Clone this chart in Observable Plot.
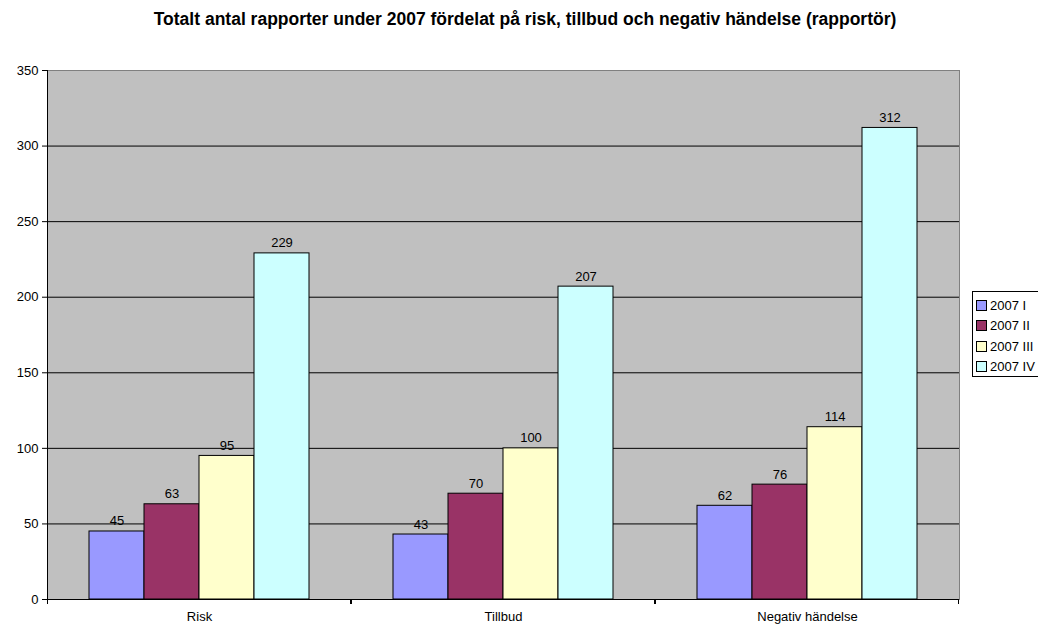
<!DOCTYPE html>
<html>
<head>
<meta charset="utf-8">
<script src="https://cdn.jsdelivr.net/npm/d3@7"></script>
<script src="https://cdn.jsdelivr.net/npm/@observablehq/plot@0.6"></script>
<style>
  html, body { margin: 0; padding: 0; background: #fff; overflow: hidden; }
  #wrap { position: relative; width: 1038px; height: 625px; font-family: "Liberation Sans", Arial, sans-serif; }
  #title { position: absolute; left: 0; top: 9px; width: 1050px; text-align: center; font-weight: bold; font-size: 17.5px; line-height: 20px; color: #000; }
  #chart { position: absolute; left: 0; top: 60px; }
  #legend { position: absolute; left: 972px; top: 291px; width: 90px; height: 86px; border: 1px solid #000; background: #fff; box-sizing: border-box; padding-top: 3px; }
  .row { height: 20.5px; display: flex; align-items: center; font-size: 13px; white-space: nowrap; }
  .sw { width: 9px; height: 9px; border: 1px solid #000; margin-left: 3px; margin-right: 3px; }
</style>
</head>
<body>
<div id="wrap">
  <div id="title">Totalt antal rapporter under 2007 fördelat på risk, tillbud och negativ händelse (rapportör)</div>
  <div id="chart"></div>
  <div id="legend"></div>
</div>
<script>
const categories = ["Risk", "Tillbud", "Negativ händelse"];
const series = ["2007 I", "2007 II", "2007 III", "2007 IV"];
const colors = ["#9999FF", "#993366", "#FFFFCC", "#CCFFFF"];
const values2007I = [45, 43, 62];
const values2007II = [63, 70, 76];
const values2007III = [95, 100, 114];
const values2007IV = [229, 207, 312];
const yTicks = [0, 50, 100, 150, 200, 250, 300, 350];

const valueLists = [values2007I, values2007II, values2007III, values2007IV];
const data = [];
categories.forEach((c, ci) => {
  series.forEach((s, si) => data.push({category: c, series: s, value: valueLists[si][ci]}));
});

const chart = Plot.plot({
  width: 1038,
  height: 565,
  marginTop: 10,
  marginBottom: 26,
  marginLeft: 46,
  marginRight: 78,
  style: {fontFamily: "'Liberation Sans', Arial, sans-serif", fontSize: "13px", color: "#000", background: "transparent"},
  fx: {domain: categories, padding: 0, label: null, axis: null},
  x: {domain: series, paddingInner: 0, paddingOuter: 0.76, axis: null},
  y: {domain: [0, 350], ticks: yTicks, label: null},
  color: {domain: series, range: colors},
  marks: [
    Plot.frame({facet: "super", fill: "#c0c0c0", stroke: "none"}),
    Plot.ruleY(yTicks.filter(d => d > 0 && d < 350), {stroke: "#000", strokeWidth: 1}),
    Plot.ruleY([350], {stroke: "#808080", strokeWidth: 1}),
    Plot.barY(data, {fx: "category", x: "series", y: "value", fill: "series", stroke: "#000", strokeWidth: 1}),
    Plot.text(data, {fx: "category", x: "series", y: "value", text: d => String(d.value), lineAnchor: "bottom", dy: -6, fill: "#000", fontSize: 13}),
    Plot.ruleY([0], {stroke: "#000", strokeWidth: 1}),
    Plot.rect([0], {y1: 0, y2: 0, insetBottom: -5, fill: "#000"}),
    Plot.rect([0], {y1: 0, y2: 0, insetBottom: -6, insetTop: 1, insetLeft: 1, insetRight: 1, fill: "#fff"}),
    Plot.frame({anchor: "left", facet: "super", stroke: "#000"}),
    Plot.frame({anchor: "right", facet: "super", stroke: "#808080"}),
    Plot.axisY({ticks: yTicks, tickSize: 5, tickPadding: 4, label: null, fontSize: 13}),
    Plot.axisFx({anchor: "bottom", tickSize: 0, tickPadding: 12, label: null, fontSize: 13})
  ]
});
document.getElementById("chart").appendChild(chart);

const legend = document.getElementById("legend");
series.forEach((s, i) => {
  const row = document.createElement("div");
  row.className = "row";
  const sw = document.createElement("div");
  sw.className = "sw";
  sw.style.background = colors[i];
  const t = document.createElement("span");
  t.textContent = s;
  row.appendChild(sw);
  row.appendChild(t);
  legend.appendChild(row);
});
</script>
</body>
</html>
